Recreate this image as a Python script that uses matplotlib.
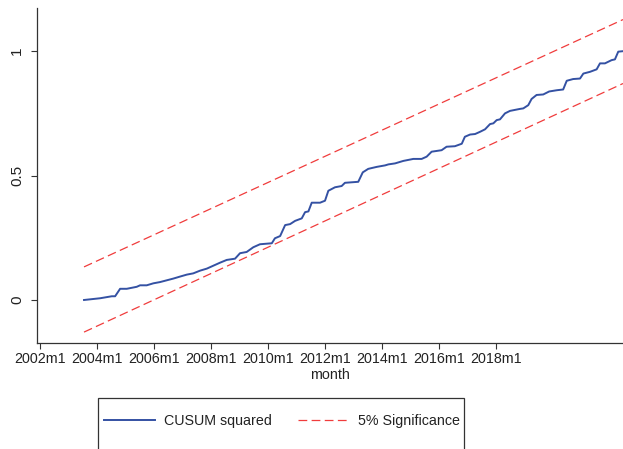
import matplotlib
matplotlib.use("Agg")
import matplotlib.pyplot as plt
from matplotlib.lines import Line2D
from matplotlib.patches import Rectangle

plt.rcParams['font.family'] = ['Liberation Sans', 'DejaVu Sans']

# months since 2002m1
month = [18.5, 25.3, 30.2, 31.6, 33.7, 36.5, 40.7, 42.1, 44.9, 47.7, 50.5, 53.3,
         56.1, 58.9, 61.8, 64.5, 67.4, 70.2, 73.0, 75.8, 78.6, 82.1, 84.2, 87.0,
         89.8, 92.6, 97.6, 98.9, 101.1, 103.2, 105.3, 107.4, 110.2, 111.6, 113.0,
         114.4, 117.9, 120.0, 121.4, 124.2, 127.0, 128.4, 134.0, 135.9, 138.2,
         141.8, 145.3, 146.7, 149.5, 153.0, 157.2, 160.7, 162.8, 164.9, 169.1,
         171.2, 174.7, 177.6, 178.9, 181.1, 183.2, 185.3, 187.4, 189.5, 190.9,
         192.3, 193.7, 195.8, 197.9, 202.1, 203.5, 205.6, 207.0, 209.1, 211.9,
         214.4, 217.6, 220.3, 221.8, 224.5, 227.4, 228.8, 231.6, 234.4, 235.8,
         237.9, 240.7, 242.1, 243.5, 245.5]
cusum_sq = [0.000, 0.007, 0.015, 0.015, 0.045, 0.045, 0.053, 0.059, 0.059, 0.067,
            0.072, 0.079, 0.086, 0.094, 0.102, 0.107, 0.118, 0.126, 0.138, 0.150,
            0.161, 0.166, 0.188, 0.193, 0.212, 0.224, 0.228, 0.248, 0.257, 0.301,
            0.305, 0.318, 0.328, 0.353, 0.356, 0.391, 0.391, 0.399, 0.439, 0.453,
            0.458, 0.471, 0.475, 0.513, 0.527, 0.535, 0.541, 0.545, 0.549, 0.559,
            0.567, 0.567, 0.576, 0.596, 0.602, 0.616, 0.618, 0.628, 0.656, 0.665,
            0.667, 0.676, 0.686, 0.707, 0.710, 0.723, 0.726, 0.750, 0.760, 0.768,
            0.770, 0.783, 0.808, 0.824, 0.826, 0.838, 0.843, 0.846, 0.881, 0.888,
            0.890, 0.910, 0.917, 0.927, 0.951, 0.951, 0.964, 0.967, 0.998, 1.000]

bound_month = [18.5, 245.5]
upper = [0.133, 1.127]
lower = [-0.129, 0.870]

tick_month = [0, 24, 48, 72, 96, 120, 144, 168, 192]
tick_label = ['2002m1', '2004m1', '2006m1', '2008m1', '2010m1',
              '2012m1', '2014m1', '2016m1', '2018m1']

blue = '#3451a3'
red = '#f03c3c'
txt = '#222222'
fs = 10.3

fig = plt.figure(figsize=(6.23, 4.49), dpi=100)
ax = fig.add_axes([0.0594, 0.236, 0.9406, 0.747])

ax.plot(month, cusum_sq, color=blue, lw=1.4, solid_joinstyle='round')
ax.plot(bound_month, upper, color=red, lw=0.9, dashes=(7, 3.5))
ax.plot(bound_month, lower, color=red, lw=0.9, dashes=(7, 3.5))

ax.set_xlim(-1.3, 245.5)
ax.set_ylim(-0.173, 1.175)
ax.set_xticks(tick_month)
ax.set_xticklabels(tick_label)
ax.set_yticks([0, 0.5, 1])
ax.set_yticklabels(['0', '0.5', '1'], rotation=90, va='center')
ax.tick_params(labelsize=fs, length=4.3, width=0.8, color='#333333',
               labelcolor=txt)
ax.tick_params(axis='x', pad=2.5)
ax.tick_params(axis='y', labelsize=11, pad=5)
ax.set_xlabel('month', fontsize=fs, color=txt, labelpad=1)

for s in ['top', 'right']:
    ax.spines[s].set_visible(False)
for s in ['left', 'bottom']:
    ax.spines[s].set_color('#333333')
    ax.spines[s].set_linewidth(0.9)

# legend box (runs off the bottom of the picture)
fig.patches.append(Rectangle((98 / 623, -0.05), 366 / 623, (449 - 398) / 449 + 0.05,
                             transform=fig.transFigure, fill=False,
                             edgecolor='#333333', lw=0.9))
handles = [Line2D([], [], color=blue, lw=1.4),
           Line2D([], [], color=red, lw=0.9, dashes=(7, 3.5))]
fig.legend(handles, ['CUSUM squared', '5% Significance'], ncol=2,
           loc='center', bbox_to_anchor=(282 / 623, 1 - 421 / 449),
           frameon=False, fontsize=fs, handlelength=3.6, handletextpad=0.62,
           columnspacing=1.8, labelcolor=txt, borderpad=0, borderaxespad=0)

fig.savefig('out.png', dpi=100)
